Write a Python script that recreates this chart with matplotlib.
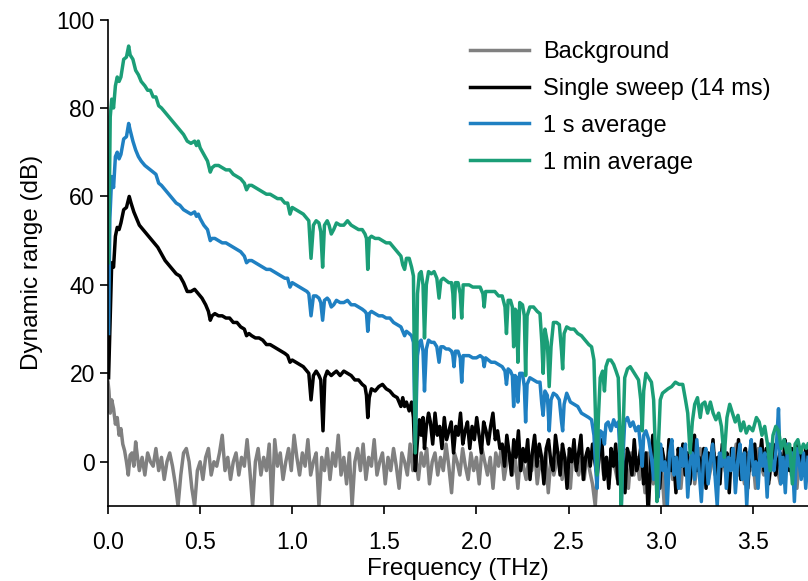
import numpy as np
import matplotlib
matplotlib.use("Agg")
from matplotlib import pyplot as plt

plt.rcParams['font.family'] = ['Liberation Sans', 'DejaVu Sans']
plt.rcParams['font.size'] = 17

labels = ['Background', 'Single sweep (14 ms)', '1 s average', '1 min average']
colors = ['#808080', '#000000', '#1f80c2', '#1b9e77']

# background: (THz, dB) rising edge, then noise floor on an even grid
bg_start = [(0.0, 18), (0.005, 16), (0.012, 11), (0.02, 14), (0.03, 12), (0.04, 8.5),
            (0.05, 10), (0.06, 6), (0.07, 7.5), (0.08, 4), (0.09, 2.5), (0.1, 0),
            (0.11, -3), (0.12, 1.5), (0.13, 2), (0.14, -1), (0.15, 4.5), (0.16, 1)]
bg_noise = [-2, 1, -3, 2, 0, -1, 3, -2, 1, -4,
            0, 2, -1, -5, -10, -3, 2, 3, 0, -6,
            -10, -2, 0, -4, 1, 3, -3, 0, -1, 2,
            6, -2, 1, -4, 0, 2, -3, 1, -1, 5,
            -2, -10, 0, 3, -3, 1, -2, 4, -10, 5,
            -1, 2, -4, 0, 3, -2, 6, 1, -3, 2,
            -1, 5, -3, 0, 2, -10, 1, -2, 3, -4,
            2, -1, 6, -3, 1, -5, 2, -10, 0, 3,
            -2, 4, -4, 1, -1, 5, -3, 0, 2, -5,
            1, -2, 3, -1, -6, 2, 0, -3, 4, -2,
            1, -4, 2, -1, 3, -5, 0, 2, -3, 1,
            -2, 4, -1, -7, 2, 0, -3, 3, -1, -4,
            2, -2, 1, -5, 3, 0, -3, 1, -6, 2,
            -1, 3, -4, 0, 2, -3, 1, -6, 2, -1,
            -4, 1, -2, 3, -5, 0, -2, 2, -7, 1,
            -3, 0, 2, -4, 1, -2, -6, 3, -1, -3,
            1, -4, 2, -2, -5, -10, 0, 3, -3, 1,
            -5, 2, -1, -4, 3, -2, 0, -6, 2, -3,
            1, -4, 0, -7, 2, -2, -5, 1, -3, -1,
            -10, 0, 3, -4, 1, -2, -6, 2, -1, -3,
            2, -5, 0, 3, -3, 1, -4, -1, 2, -6,
            0, 3, -2, -4, 1, -1, 4, -3, 0, -5,
            2, -2, 1, -6, 3, -1, -3, 2, -4, 0,
            3, -2, -5, 1, -1, 4, -3, 0, -6, 2,
            -1, 1, -2]

# single sweep: (THz, dB) up to 1.74 THz, then noise on an even grid
sweep_trace = [(0.003, 19), (0.01, 30), (0.02, 45), (0.03, 44), (0.04, 51), (0.05, 53),
               (0.06, 52.5), (0.07, 54), (0.085, 57), (0.1, 57.5), (0.115, 60), (0.125, 58.5),
               (0.14, 56.5), (0.155, 55), (0.17, 53.5), (0.19, 52.5), (0.21, 51.5), (0.23, 50.5),
               (0.25, 49.5), (0.27, 48.5), (0.29, 47), (0.31, 45.5), (0.33, 44.5), (0.35, 43.5),
               (0.37, 42.5), (0.39, 42), (0.41, 40.5), (0.43, 38.5), (0.45, 38.5), (0.47, 39),
               (0.49, 38), (0.51, 37), (0.53, 35.5), (0.545, 34), (0.555, 32), (0.565, 33),
               (0.58, 33.5), (0.6, 33), (0.62, 33), (0.64, 32.5), (0.66, 32.5), (0.68, 31.5),
               (0.7, 31.5), (0.72, 30.5), (0.74, 30), (0.752, 28.5), (0.765, 29), (0.78, 28.5),
               (0.8, 28), (0.82, 28), (0.84, 27.5), (0.86, 26.5), (0.88, 26.5), (0.9, 26),
               (0.92, 25.5), (0.94, 25), (0.96, 24.5), (0.975, 24), (0.988, 22.5), (1.0, 23),
               (1.02, 22.5), (1.04, 22), (1.06, 21.5), (1.08, 20.5), (1.09, 20), (1.102, 14),
               (1.115, 19.5), (1.13, 20.5), (1.145, 19.5), (1.155, 18.5), (1.167, 7), (1.177, 19),
               (1.19, 20.5), (1.2, 20), (1.212, 19.5), (1.225, 20), (1.24, 20.5), (1.26, 19.5),
               (1.28, 20.5), (1.3, 20), (1.32, 19.5), (1.34, 18.5), (1.36, 18.5), (1.38, 17.5),
               (1.395, 17), (1.403, 15), (1.41, 10), (1.418, 14.5), (1.43, 16.5), (1.45, 16),
               (1.47, 17), (1.49, 17.5), (1.51, 16.5), (1.53, 16), (1.55, 15), (1.57, 14.5),
               (1.59, 12.5), (1.6, 14.5), (1.61, 12.5), (1.62, 13.5), (1.635, 11.5), (1.648, 13.5),
               (1.658, 10), (1.668, -2), (1.68, 5), (1.69, 9.5), (1.7, 6), (1.71, 10),
               (1.718, 3), (1.728, 8), (1.74, 11)]
sweep_noise = [9, 4, 11, 6, 8, 3, 10, 5, 7, 9, 2, 8, 6, 11, 4, 7, 9, 3, 8, 5,
               10, 6, 2, 9, 7, 4, 8, 11, 5, 7, 3,
               4, -1, 6, 2, -3, 5, 1, 7, -2, 3, 0, 5, -4, 2, 6, -1, 4, 1, -5, 3,
               5, 0, -2, 6, 2, -3, 4, 1, -6, 3, 0, 5, -2, 2, 6, -4, 1, 3, -1, 4, 0,
               -3, 2, 5, -4, 1, -6, 3, -1, 4, -5, 0, 2, -7, 3, 1, -3, 5, -2, 0, 4,
               -5, 2, -12, -1, 6, -3, 1, -6, 3, 0, -4, 5, -2, 1, -7, 3, -1, 4, -3, 2,
               -5, 0, 6, -2, 1, -4, 3, -6, 2, 0, 5, -3, 1, -5, 4, -1, 2, -7, 3, 0,
               -2, 5, -4, 1, 3, -6, 2, -1, 4, -3, 0, 5, -2, 3, -5, 1, 4, -3, 0, 2,
               -4, 5, 1, -2, 3, -1, 4, 0, 2, -3, 3, 1]

# 1 s average: (THz, dB) up to 2.94 THz, then noise on an even grid
avg1s_trace = [(0.003, 29), (0.01, 55), (0.02, 64.5), (0.03, 62), (0.04, 69), (0.05, 70),
               (0.06, 68.5), (0.07, 69.5), (0.085, 73), (0.1, 73.5), (0.112, 76.5), (0.12, 75),
               (0.135, 72.5), (0.15, 70.5), (0.165, 69), (0.18, 68), (0.2, 67), (0.215, 66.5),
               (0.23, 66), (0.245, 65.5), (0.26, 65), (0.275, 63), (0.29, 62.5), (0.31, 61.5),
               (0.33, 60.5), (0.35, 59.5), (0.37, 58.5), (0.39, 58), (0.41, 57), (0.43, 56.5),
               (0.45, 56), (0.47, 56.5), (0.48, 55.5), (0.49, 56), (0.5, 55), (0.52, 53.5),
               (0.54, 52.5), (0.555, 50), (0.565, 50.5), (0.58, 50.5), (0.6, 50), (0.62, 49.5),
               (0.64, 49.5), (0.66, 49), (0.68, 48.5), (0.7, 48), (0.72, 47.5), (0.74, 46.5),
               (0.752, 45), (0.765, 45.5), (0.78, 45.5), (0.8, 45), (0.82, 44.5), (0.84, 44),
               (0.86, 43.5), (0.88, 43.5), (0.9, 43), (0.92, 42.5), (0.94, 42), (0.96, 41.5),
               (0.975, 41.5), (0.988, 39.5), (1.0, 40.5), (1.02, 40), (1.04, 39.5), (1.06, 39),
               (1.08, 38.5), (1.09, 38), (1.102, 33), (1.115, 37.5), (1.13, 37.5), (1.145, 37),
               (1.155, 36), (1.165, 32), (1.175, 36.5), (1.19, 37), (1.2, 36.5), (1.212, 35),
               (1.225, 35.5), (1.24, 36.5), (1.26, 36), (1.28, 36), (1.3, 36.5), (1.32, 35.5),
               (1.34, 35.5), (1.36, 35), (1.38, 34.5), (1.395, 34), (1.403, 33.5), (1.41, 29.5),
               (1.418, 33.5), (1.43, 34), (1.45, 33.5), (1.47, 33), (1.49, 33), (1.51, 32.5),
               (1.53, 32.5), (1.55, 31.5), (1.57, 31), (1.59, 30.5), (1.6, 29.5), (1.61, 28.5),
               (1.62, 29.5), (1.635, 29), (1.648, 28.5), (1.658, 27), (1.668, 4), (1.68, 24),
               (1.69, 27), (1.7, 27.5), (1.71, 25), (1.718, 16), (1.728, 25.5), (1.74, 27.5),
               (1.755, 27), (1.77, 27), (1.785, 26), (1.797, 22.5), (1.807, 26), (1.82, 26),
               (1.835, 25.5), (1.85, 25.5), (1.865, 25), (1.872, 24), (1.878, 21.5), (1.886, 25),
               (1.9, 25), (1.912, 23.5), (1.92, 18), (1.928, 24), (1.94, 24), (1.96, 24),
               (1.98, 23.5), (2.0, 23.5), (2.02, 24), (2.035, 23.5), (2.042, 21.5), (2.05, 23.5),
               (2.065, 23), (2.08, 22.5), (2.1, 22.5), (2.12, 22), (2.14, 21.5), (2.155, 20.5),
               (2.163, 17.5), (2.172, 21), (2.185, 20.5), (2.195, 19.5), (2.202, 12.5), (2.21, 19.5),
               (2.218, 19), (2.225, 13.5), (2.235, 20), (2.25, 20), (2.26, 17), (2.267, 9),
               (2.275, 17.5), (2.29, 19), (2.31, 18.5), (2.33, 18), (2.345, 18), (2.355, 13),
               (2.362, 10.5), (2.372, 16), (2.385, 15), (2.395, 7), (2.405, 14), (2.418, 15.5),
               (2.435, 15), (2.45, 14), (2.462, 9), (2.468, 7), (2.476, 13), (2.49, 15.5),
               (2.51, 13.5), (2.53, 13), (2.55, 12.5), (2.57, 11), (2.59, 10.5), (2.61, 10),
               (2.625, 9.5), (2.638, 6), (2.648, -2), (2.655, -6), (2.662, 2), (2.672, 7),
               (2.685, 6.5), (2.695, 4), (2.703, 8.5), (2.715, 9), (2.73, 7), (2.745, 9.5),
               (2.758, 8), (2.77, 9), (2.778, 3), (2.786, -10.5), (2.794, 0), (2.805, 9),
               (2.82, 10), (2.835, 8), (2.85, 9), (2.865, 7), (2.88, 8), (2.892, 3),
               (2.9, -1), (2.908, 6), (2.92, 7), (2.935, 5)]
avg1s_noise = [1, -4, 3, -8, 4, -2, 0, -10, 2, 5, -3, 1, -6, 3, -1, 4, -8, 0, 2, -4,
               5, -2, -9, 1, 3, -5, 0, 4, -3, -10, 2, -1, 5, -6, 1, -2, 3, -7, 0, 4,
               -4, 2, -10, 1, 5, -3, 0, -6, 3, -1, 2, -8, 4, 0, -2, 3, 12, -5, 1, -7,
               4, -1, 2, -9, 3, 0, -4, 2, -6, 1]

# 1 min average: (THz, dB)
avg1min_trace = [(0.003, 45), (0.012, 78), (0.02, 82), (0.03, 80), (0.04, 85), (0.05, 87),
                 (0.06, 86), (0.07, 87), (0.085, 91), (0.1, 91.5), (0.112, 94), (0.12, 92),
                 (0.135, 91), (0.15, 88.5), (0.165, 87.5), (0.18, 86), (0.2, 85), (0.215, 84),
                 (0.23, 84), (0.245, 82.5), (0.26, 82.5), (0.275, 80.5), (0.29, 80), (0.31, 79),
                 (0.33, 78), (0.35, 77), (0.37, 76), (0.39, 75), (0.41, 74), (0.43, 72.5),
                 (0.45, 72), (0.47, 72.5), (0.48, 71.5), (0.49, 72.5), (0.5, 71), (0.52, 69.5),
                 (0.54, 68), (0.555, 65.5), (0.565, 66.5), (0.58, 67), (0.6, 67), (0.62, 66.5),
                 (0.64, 66), (0.66, 66), (0.68, 65), (0.7, 64.5), (0.72, 64), (0.74, 63),
                 (0.752, 61.5), (0.765, 62.5), (0.78, 62.5), (0.8, 62), (0.82, 61.5), (0.84, 61),
                 (0.86, 60.5), (0.88, 60.5), (0.9, 60), (0.92, 59.5), (0.94, 59.5), (0.96, 58.5),
                 (0.975, 58.5), (0.988, 56), (1.0, 57.5), (1.02, 57), (1.04, 56.5), (1.06, 56),
                 (1.08, 55), (1.09, 54.5), (1.102, 46), (1.115, 53.5), (1.13, 54.5), (1.145, 54),
                 (1.155, 52), (1.165, 44), (1.175, 53.5), (1.19, 54.5), (1.2, 53.5), (1.212, 51.5),
                 (1.225, 52.5), (1.24, 54), (1.26, 53.5), (1.28, 53.5), (1.3, 54.5), (1.32, 53.5),
                 (1.34, 53), (1.36, 52.5), (1.38, 52.5), (1.395, 51.5), (1.403, 50.5), (1.41, 43.5),
                 (1.418, 50.5), (1.43, 51), (1.45, 50.5), (1.47, 50.5), (1.49, 50), (1.51, 49.5),
                 (1.53, 49.5), (1.55, 48.5), (1.57, 47.5), (1.59, 46.5), (1.6, 44.5), (1.61, 43.5),
                 (1.62, 46), (1.635, 46), (1.648, 44), (1.658, 42), (1.668, 2), (1.68, 38),
                 (1.69, 42.5), (1.7, 43), (1.71, 40), (1.718, 28), (1.728, 40), (1.74, 43),
                 (1.755, 42.5), (1.77, 43), (1.785, 41.5), (1.797, 37), (1.807, 41), (1.82, 41.5),
                 (1.835, 41), (1.85, 40.5), (1.865, 40.5), (1.872, 38), (1.878, 32.5), (1.886, 40.5),
                 (1.9, 40.5), (1.912, 38), (1.92, 32.5), (1.928, 40), (1.94, 40), (1.96, 40),
                 (1.98, 39.5), (2.0, 39.5), (2.02, 39.5), (2.035, 38), (2.042, 35), (2.05, 38.5),
                 (2.065, 38.5), (2.08, 38.5), (2.1, 38.5), (2.12, 37.5), (2.14, 37.5), (2.155, 35),
                 (2.163, 29), (2.172, 36.5), (2.185, 36.5), (2.195, 35), (2.202, 26), (2.21, 34.5),
                 (2.218, 34), (2.225, 22.5), (2.235, 36), (2.25, 35.5), (2.26, 33), (2.267, 19.5),
                 (2.275, 33), (2.29, 35), (2.31, 35), (2.33, 34), (2.345, 33.5), (2.355, 27),
                 (2.362, 20), (2.372, 30), (2.385, 27), (2.395, 17), (2.405, 26), (2.418, 31.5),
                 (2.435, 31.5), (2.45, 31), (2.462, 25), (2.468, 21), (2.476, 29), (2.49, 30.5),
                 (2.51, 30), (2.53, 30), (2.55, 29), (2.57, 28.5), (2.59, 27.5), (2.61, 26.5),
                 (2.625, 26), (2.638, 23), (2.648, 8), (2.655, -3), (2.662, 10), (2.672, 19),
                 (2.685, 20.5), (2.695, 16), (2.703, 21.5), (2.715, 23), (2.73, 23), (2.745, 22),
                 (2.758, 20.5), (2.77, 19), (2.778, 8), (2.786, -12), (2.794, 4), (2.805, 19),
                 (2.82, 21), (2.835, 21.5), (2.85, 20.5), (2.865, 19.5), (2.88, 18.5), (2.892, 14),
                 (2.9, 7), (2.908, 16), (2.92, 20), (2.935, 19), (2.95, 18), (2.962, 14),
                 (2.972, 2), (2.98, -9), (2.988, 4), (2.998, 14), (3.01, 15.5), (3.025, 16),
                 (3.04, 16.5), (3.06, 17), (3.08, 18), (3.1, 17.5), (3.12, 17.5), (3.135, 14),
                 (3.147, 11), (3.16, 2), (3.172, 9), (3.185, 13), (3.2, 14.5), (3.215, 10),
                 (3.225, 13), (3.24, 13.5), (3.255, 11), (3.27, 13.5), (3.285, 11), (3.3, 9.5),
                 (3.315, 11), (3.33, 8), (3.345, 1), (3.36, 10), (3.375, 13), (3.39, 11),
                 (3.405, 9), (3.42, 10.5), (3.435, 7), (3.45, 9), (3.465, 6.5), (3.48, 8),
                 (3.5, 7), (3.52, 10), (3.535, 9), (3.55, 6), (3.565, 8), (3.58, 4),
                 (3.595, -2), (3.61, 6), (3.625, 8), (3.64, 7), (3.655, 3), (3.67, 5),
                 (3.685, 2), (3.7, 4), (3.715, -5), (3.73, 4), (3.745, 5), (3.76, 2),
                 (3.775, 4), (3.79, 3), (3.8, 4)]


def build(trace, noise, f_lo, f_hi):
    f, db = np.array(trace, dtype=float).T
    if noise:
        f = np.concatenate([f, np.linspace(f_lo, f_hi, len(noise))])
        db = np.concatenate([db, noise])
    return f, db


series = [build(bg_start, bg_noise, 0.17, 3.8),
          build(sweep_trace, sweep_noise, 1.75, 3.8),
          build(avg1s_trace, avg1s_noise, 2.95, 3.8),
          build(avg1min_trace, [], 0, 0)]

fig = plt.figure(figsize=(8.08, 5.81), dpi=100)
ax = fig.add_axes([0.1337, 0.1291, 0.8663, 0.8373])

for (f, db), lab, c in zip(series, labels, colors):
    ax.plot(f, db, color=c, lw=2.5, label=lab, solid_joinstyle='round')

ax.set_xlim(0, 3.8)
ax.set_ylim(-10, 100)
ax.set_xticks([0, 0.5, 1.0, 1.5, 2.0, 2.5, 3.0, 3.5])
ax.set_xticklabels(['0.0', '0.5', '1.0', '1.5', '2.0', '2.5', '3.0', '3.5'])
ax.set_yticks([0, 20, 40, 60, 80, 100])
ax.spines['top'].set_visible(False)
ax.spines['right'].set_visible(False)
ax.spines['left'].set_linewidth(1.2)
ax.spines['bottom'].set_linewidth(1.2)
ax.tick_params(direction='out', length=6, width=1.2, labelsize=16.5)
ax.tick_params(axis='x', pad=12)
ax.set_xlabel('Frequency (THz)', fontsize=17.5, labelpad=3)
ax.set_ylabel('Dynamic range (dB)', fontsize=17.5, labelpad=10)

ax.legend(loc='upper left', bbox_to_anchor=(0.5817, 0.9295), bbox_transform=fig.transFigure,
          frameon=False, fontsize=17, handlelength=2.5, handletextpad=0.58,
          labelspacing=0.63, borderpad=0, borderaxespad=0)

fig.savefig('out.png', dpi=100)
